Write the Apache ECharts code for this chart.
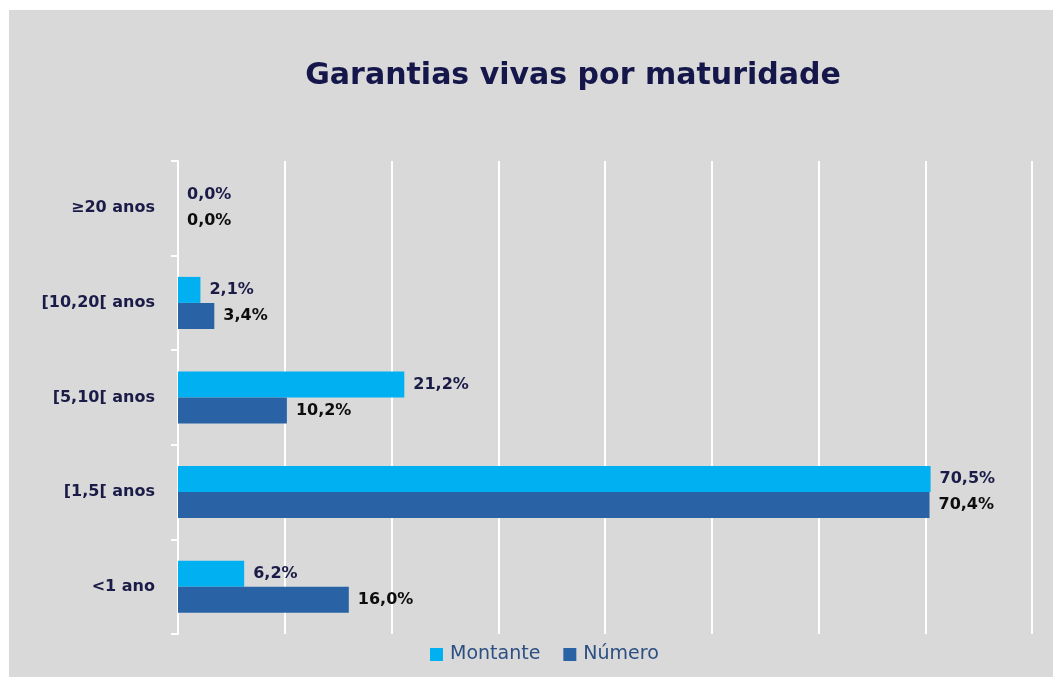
<!DOCTYPE html>
<html><head><meta charset="utf-8">
<script src="https://cdn.jsdelivr.net/npm/echarts@6/dist/echarts.min.js"></script>
<style>
html,body{margin:0;padding:0;background:#fff;width:1053px;height:677px;overflow:hidden}
#c{position:absolute;left:9px;top:10px;width:1044px;height:667px;background:#d9d9d9}
</style></head><body><div id="c"></div>
<script>
const categories = ['<1 ano', '[1,5[ anos', '[5,10[ anos', '[10,20[ anos', '≥20 anos'];
const montante = [6.2, 70.5, 21.2, 2.1, 0.0];
const numero = [16.0, 70.4, 10.2, 3.4, 0.0];
const seriesNames = ['Montante', 'Número'];
const fmt = v => v.toFixed(1).replace('.', ',') + '%';
const FONT = 'DejaVu Sans';
const chart = echarts.init(document.getElementById('c'));
chart.setOption({
  backgroundColor: '#d9d9d9',
  animation: false,
  title: {
    text: 'Garantias vivas por maturidade',
    left: 559, top: 46, textAlign: 'center',
    textStyle: {fontFamily: FONT, fontWeight: 'bold', fontSize: 30, color: '#15164a'}
  },
  legend: {
    data: seriesNames,
    bottom: 8, left: 416, itemWidth: 13, itemHeight: 13, itemGap: 23,
    icon: 'rect',
    textStyle: {fontFamily: FONT, fontSize: 19, color: '#2b4f82', padding: [0, 0, 0, 2]}
  },
  grid: {left: 169, right: 21, top: 151, bottom: 43},
  xAxis: {
    type: 'value', min: 0, max: 80, interval: 10,
    axisLabel: {show: false}, axisLine: {show: false}, axisTick: {show: false},
    splitLine: {lineStyle: {color: '#ffffff', width: 2}}
  },
  yAxis: {
    type: 'category', data: categories,
    axisLine: {lineStyle: {color: '#ffffff', width: 2}},
    axisTick: {show: true, length: 7, lineStyle: {color: '#ffffff', width: 2}},
    axisLabel: {margin: 23, fontFamily: FONT, fontWeight: 'bold', fontSize: 16, color: '#1b1b48'}
  },
  series: [
    {
      name: 'Montante', type: 'bar', data: montante,
      barGap: '0%', barCategoryGap: '45%',
      itemStyle: {color: '#00b0f0'},
      label: {show: true, position: 'right', distance: 9, formatter: p => fmt(p.value),
        fontFamily: FONT, fontWeight: 'bold', fontSize: 16, color: '#1b1b48'}
    },
    {
      name: 'Número', type: 'bar', data: numero,
      itemStyle: {color: '#2963a5'},
      label: {show: true, position: 'right', distance: 9, formatter: p => fmt(p.value),
        fontFamily: FONT, fontWeight: 'bold', fontSize: 16, color: '#0d0d0d'}
    }
  ]
});
</script></body></html>
